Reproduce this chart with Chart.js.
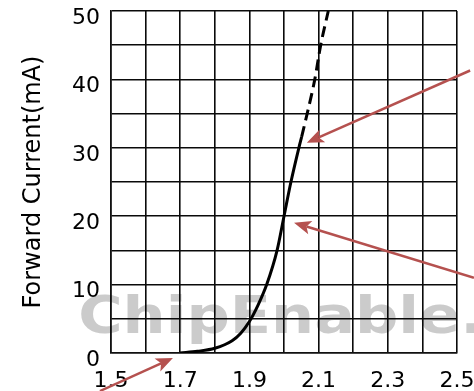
<!DOCTYPE html>
<html>
<head>
<meta charset="utf-8">
<script src="https://cdn.jsdelivr.net/npm/chart.js@4.4.1/dist/chart.umd.min.js"></script>
<style>
html,body{margin:0;padding:0;background:#fff;}
#wrap{width:474px;height:391px;position:relative;}
</style>
</head>
<body>
<div id="wrap"><canvas id="c" width="474" height="391"></canvas></div>
<script>
// Data
const solidVoltage = [1.70, 1.75, 1.80, 1.85, 1.875, 1.90, 1.925, 1.95, 1.98, 2.00, 2.02, 2.043, 2.051];
const solidCurrent = [0, 0.25, 0.7, 1.8, 2.9, 4.6, 7, 10, 15, 20, 25, 30, 31.6];
const dashedVoltage = [2.051, 2.067, 2.089, 2.106, 2.128];
const dashedCurrent = [31.6, 35, 40, 45, 50];
const xTickLabels = ['1.5', '1.7', '1.9', '2.1', '2.3', '2.5'];
const yTickLabels = ['0', '10', '20', '30', '40', '50'];
const yTitle = 'Forward Current(mA)';
const watermarkText = 'ChipEnable.';
// arrows: [tailX, tailY, tipX, tipY] in data units
const arrowTails = [[1.468, -5.56], [2.538, 41.3], [2.549, 11.0]];
const arrowTips = [[1.679, -0.73], [2.066, 30.75], [2.029, 19.05]];

const FONT = "'DejaVu Sans', sans-serif";

const overlay = {
  id: 'overlay',
  beforeDraw(chart) {
    const {ctx, scales: {x, y}} = chart;
    ctx.save();
    ctx.font = "bold 52px " + FONT;
    ctx.fillStyle = '#cbcbcb';
    ctx.textBaseline = 'alphabetic';
    const x0 = x.getPixelForValue(1.405);
    const base = y.getPixelForValue(2.9);
    const w = ctx.measureText(watermarkText).width;
    const target = 405;
    ctx.translate(x0, base);
    ctx.scale(target / w, 1);
    ctx.fillText(watermarkText, 0, 0);
    ctx.restore();
  },
  afterDraw(chart) {
    const {ctx, scales: {x, y}} = chart;
    ctx.save();
    ctx.strokeStyle = '#b5514f';
    ctx.fillStyle = '#b5514f';
    ctx.lineWidth = 2.5;
    for (let i = 0; i < arrowTips.length; i++) {
      const tx = x.getPixelForValue(arrowTails[i][0]);
      const ty = y.getPixelForValue(arrowTails[i][1]);
      const hx = x.getPixelForValue(arrowTips[i][0]);
      const hy = y.getPixelForValue(arrowTips[i][1]);
      const ang = Math.atan2(hy - ty, hx - tx);
      const L = 17, W = 7;
      const bx = hx - L * Math.cos(ang), by = hy - L * Math.sin(ang);
      ctx.beginPath();
      ctx.moveTo(tx, ty);
      ctx.lineTo(bx + 4 * Math.cos(ang), by + 4 * Math.sin(ang));
      ctx.stroke();
      const nx = -Math.sin(ang), ny = Math.cos(ang);
      ctx.beginPath();
      ctx.moveTo(hx, hy);
      ctx.lineTo(bx + nx * W, by + ny * W);
      ctx.lineTo(bx + 4 * Math.cos(ang), by + 4 * Math.sin(ang));
      ctx.lineTo(bx - nx * W, by - ny * W);
      ctx.closePath();
      ctx.fill();
    }
    ctx.restore();
  }
};

new Chart(document.getElementById('c'), {
  type: 'scatter',
  data: {
    datasets: [
      {
        data: solidVoltage.map((v, i) => ({x: v, y: solidCurrent[i]})),
        showLine: true,
        borderColor: '#000',
        borderWidth: 3,
        pointRadius: 0,
        cubicInterpolationMode: 'monotone',
        fill: false
      },
      {
        data: dashedVoltage.map((v, i) => ({x: v, y: dashedCurrent[i]})),
        showLine: true,
        borderColor: '#000',
        borderWidth: 3,
        borderDash: [11, 6],
        pointRadius: 0,
        cubicInterpolationMode: 'monotone',
        fill: false
      }
    ]
  },
  options: {
    responsive: false,
    animation: false,
    devicePixelRatio: 1,
    layout: {padding: {top: 11, right: 17, left: 0, bottom: 0}},
    plugins: {legend: {display: false}, tooltip: {enabled: false}},
    scales: {
      x: {
        type: 'linear',
        min: 1.5, max: 2.5,
        afterBuildTicks(scale) {
          const t = [];
          for (let k = 0; k <= 10; k++) t.push({value: 1.5 + k * 0.1});
          scale.ticks = t;
        },
        afterFit(scale) {
          scale.height = 38;
          scale.paddingLeft = 0; scale.paddingRight = 0;
          scale.paddingTop = 0; scale.paddingBottom = 0;
        },
        border: {display: true, color: '#111', width: 1.6},
        grid: {color: '#0a0a0a', lineWidth: 1.6, drawTicks: false},
        ticks: {
          autoSkip: false,
          maxRotation: 0,
          padding: 15,
          color: '#000',
          font: {family: FONT, size: 22},
          callback: (v, i) => (i % 2 === 0 ? xTickLabels[i / 2] : '')
        }
      },
      y: {
        type: 'linear',
        min: 0, max: 50,
        afterBuildTicks(scale) {
          const t = [];
          for (let k = 0; k <= 10; k++) t.push({value: k * 5});
          scale.ticks = t;
        },
        afterFit(scale) {
          scale.width = 111;
          scale.paddingLeft = 0; scale.paddingRight = 0;
          scale.paddingTop = 0; scale.paddingBottom = 0;
        },
        border: {display: true, color: '#111', width: 1.6},
        grid: {color: '#0a0a0a', lineWidth: 1.6, drawTicks: false},
        title: {
          display: true,
          text: yTitle,
          color: '#000',
          font: {family: FONT, size: 24, weight: 'normal'},
          padding: {top: 19, bottom: 0}
        },
        ticks: {
          autoSkip: false,
          padding: 11,
          labelOffset: 7,
          color: '#000',
          font: {family: FONT, size: 22},
          callback: (v, i) => (i % 2 === 0 ? yTickLabels[i / 2] : '')
        }
      }
    }
  },
  plugins: [overlay]
});
</script>
</body>
</html>
